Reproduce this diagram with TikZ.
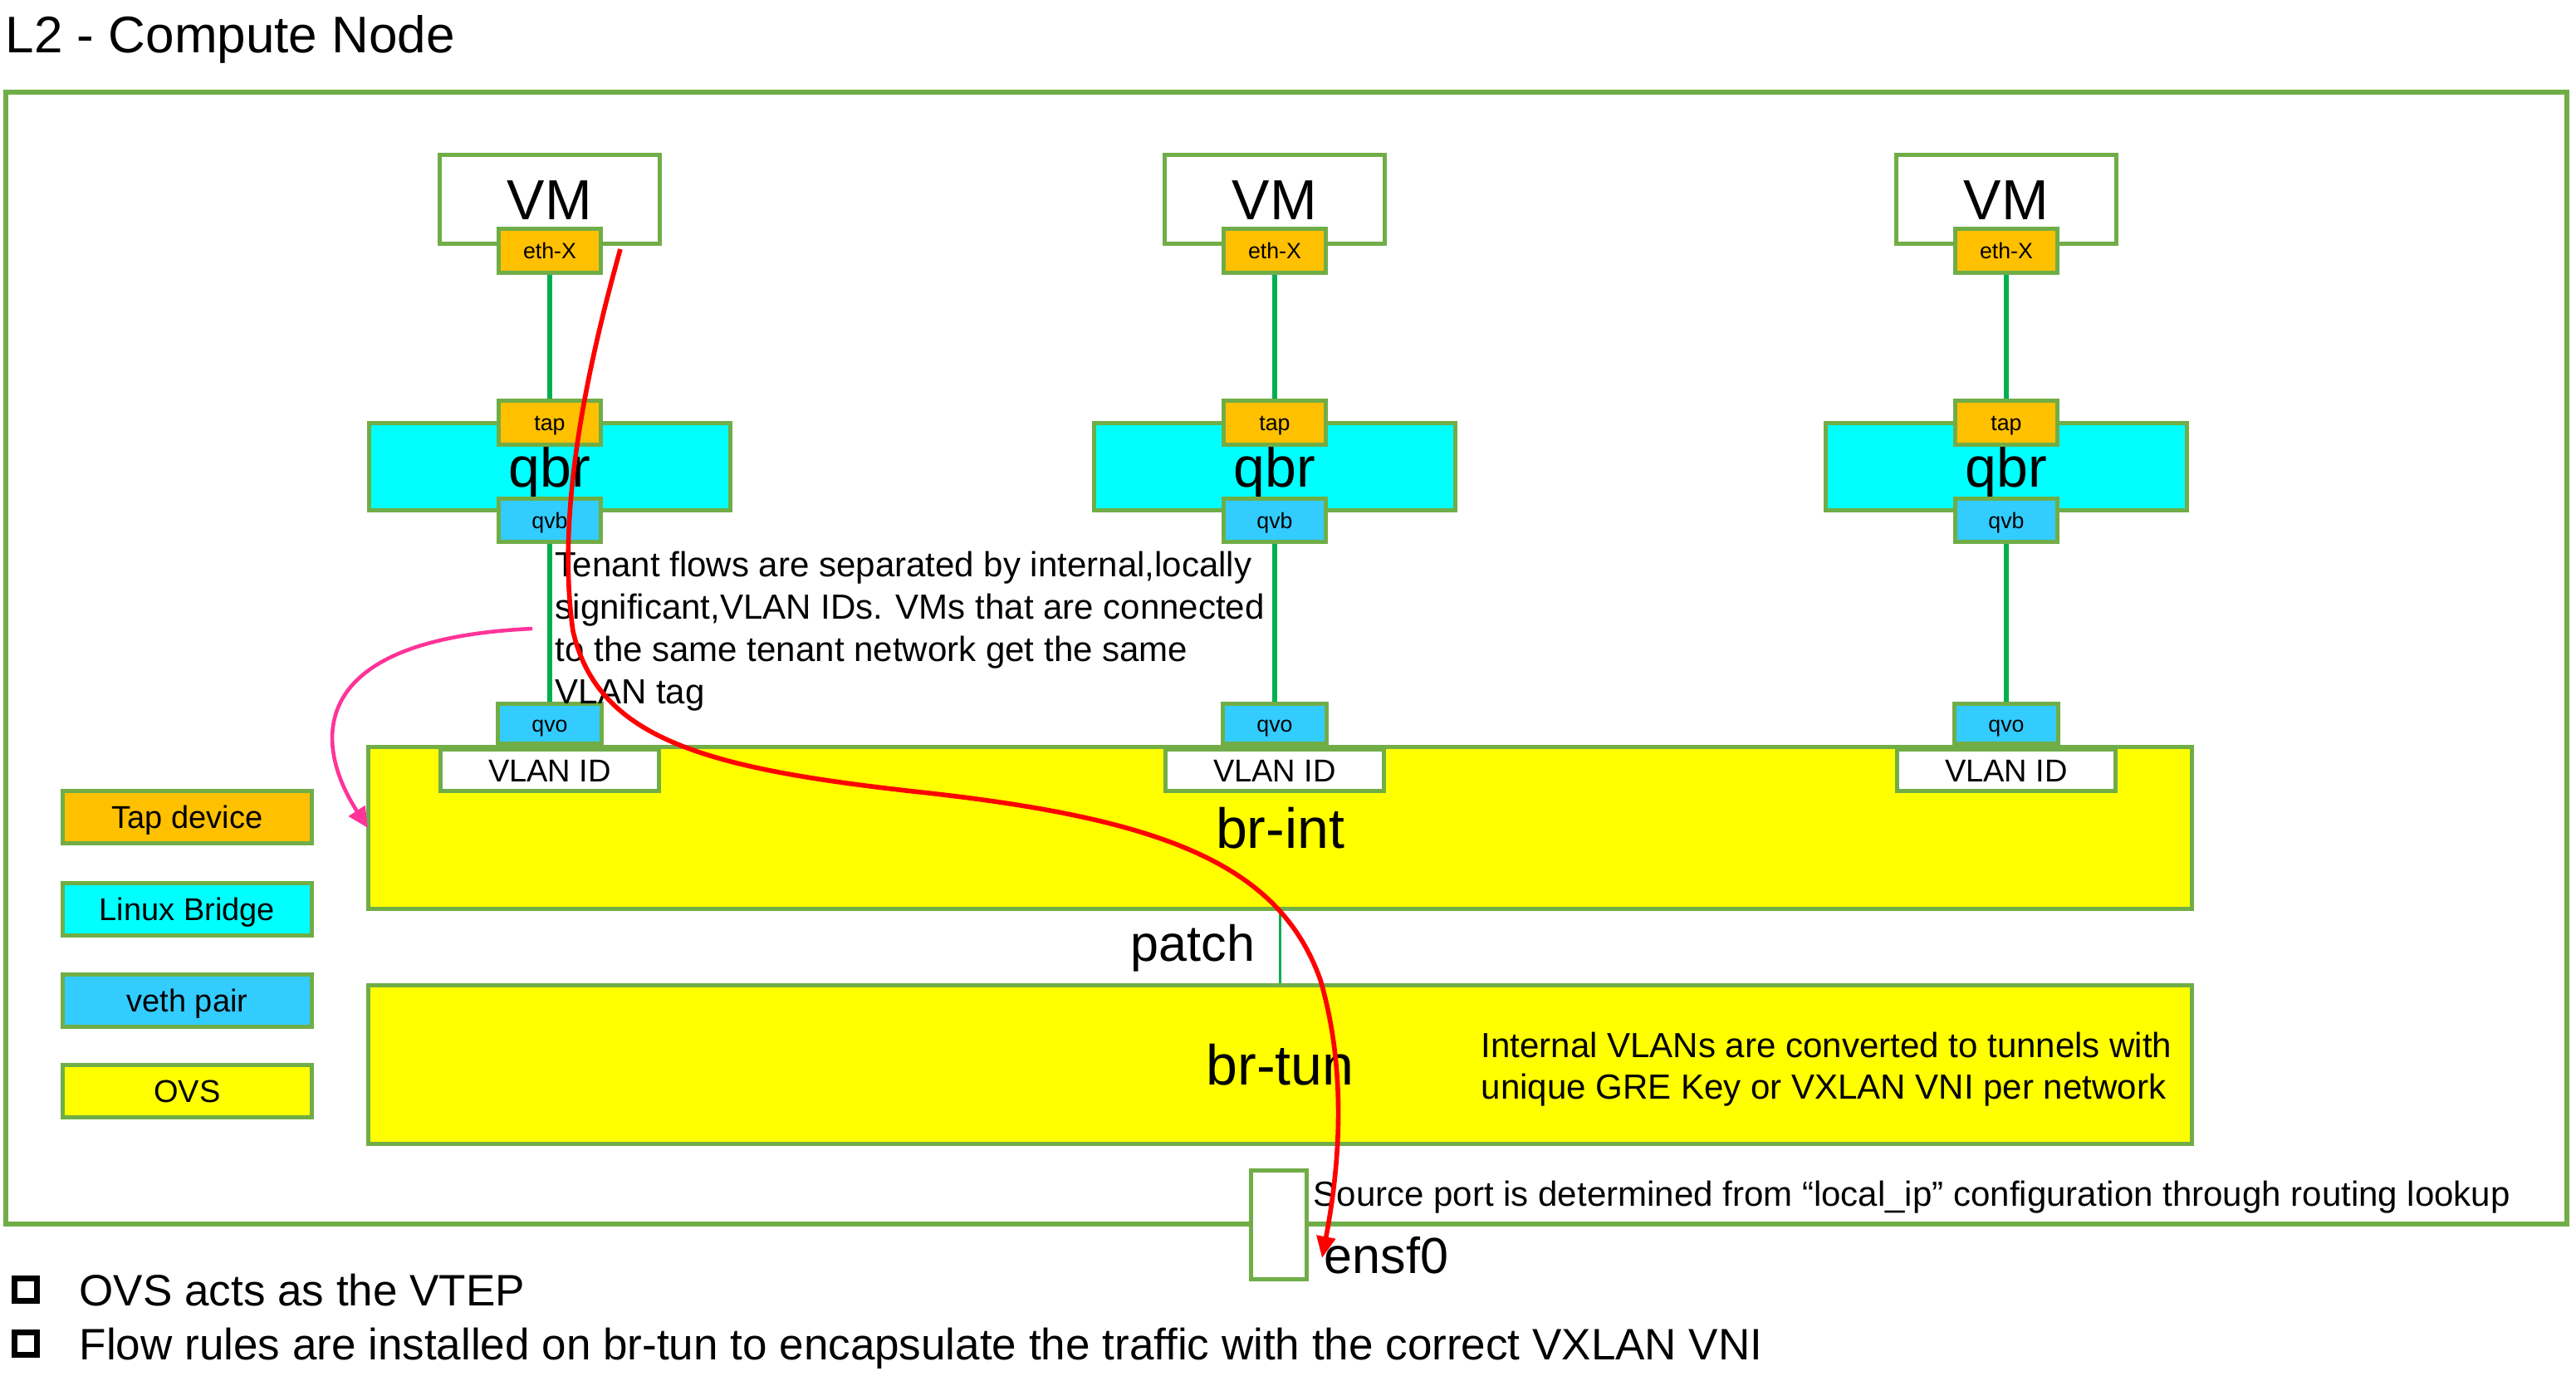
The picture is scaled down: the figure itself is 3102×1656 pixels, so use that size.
\documentclass[tikz,border=0pt]{standalone}
\usepackage{fontspec}
\setmainfont{Liberation Sans}
\usetikzlibrary{arrows.meta}
\definecolor{bgreen}{HTML}{70AD47}
\definecolor{lgreen}{HTML}{00B050}
\definecolor{torange}{HTML}{FFC000}
\definecolor{tcyan}{HTML}{00FFFF}
\definecolor{tblue}{HTML}{33CCFF}
\definecolor{tyellow}{HTML}{FFFF00}
\definecolor{tpink}{HTML}{FF3399}
\definecolor{tred}{HTML}{FF0000}
\begin{document}
\begin{tikzpicture}[x=0.01cm,y=-0.01cm,
  boxbase/.style={draw=bgreen, line width=1.42pt, inner sep=0pt, text depth=0pt},
  vmbox/.style={boxbase, fill=white, minimum width=2.65cm, minimum height=1.06cm,
     font=\fontsize{19.35pt}{22pt}\selectfont, text height=13.85pt},
  qbrbox/.style={boxbase, fill=tcyan, minimum width=4.35cm, minimum height=1.05cm,
     font=\fontsize{19.35pt}{22pt}\selectfont, text height=13.85pt},
  port/.style={boxbase, minimum width=1.23cm, minimum height=0.53cm,
     font=\fontsize{7.6pt}{9pt}\selectfont, text height=5.4pt},
  qvobox/.style={boxbase, fill=tblue, minimum width=1.25cm, minimum height=0.48cm,
     font=\fontsize{7.6pt}{9pt}\selectfont, text height=5.4pt},
  vlanbox/.style={boxbase, fill=white, minimum width=2.63cm, minimum height=0.50cm,
     font=\fontsize{10.81pt}{13pt}\selectfont, text height=7.74pt},
  ovsbox/.style={boxbase, fill=tyellow, minimum width=21.94cm,
     font=\fontsize{19.35pt}{22pt}\selectfont, text height=13.85pt},
  legend/.style={boxbase, minimum width=3.00cm, minimum height=0.63cm,
     font=\fontsize{10.81pt}{13pt}\selectfont, text height=7.74pt},
  frame/.style={draw=bgreen, line width=1.71pt, minimum width=30.82cm, minimum height=13.63cm, inner sep=0pt},
  link/.style={draw=lgreen, line width=1.56pt},
  patchline/.style={draw=lgreen, line width=1.1pt},
  txt/.style={inner sep=0pt, font=\fontsize{11.95pt}{14.5pt}\selectfont},
  redarrow/.style={draw=tred, line width=1.6pt, -{Triangle[length=7.4pt,width=6.3pt]}},
  pinkarrow/.style={draw=tpink, line width=1.3pt, -{Triangle[length=7pt,width=6.5pt]}},
  bulletbox/.style={draw=black, line width=2pt, minimum size=0.27cm, inner sep=0pt},
]
\useasboundingbox (0,0) rectangle (3102,1656);

% title
\node[inner sep=0pt, anchor=base west, font=\fontsize{17.64pt}{20pt}\selectfont] (title) at (6,63) {L2 - Compute Node};

% outer frame
\node[frame] (frame) at (1549,792.5) {};

% legend
\node[legend, fill=torange] (lg1) at (225.5,984) {Tap device};
\node[legend, fill=tcyan] (lg2) at (225.5,1095) {Linux Bridge};
\node[legend, fill=tblue] (lg3) at (225.5,1205) {veth pair};
\node[legend, fill=tyellow] (lg4) at (225.5,1313.5) {OVS};

% OVS bridges
\node[ovsbox, minimum height=1.95cm] (brint) at (1541.5,997) {br-int};
\node[ovsbox, minimum height=1.91cm] (brtun) at (1541.5,1282) {br-tun};
\draw[patchline] (brint) -- (brtun);
\node[inner sep=0pt, anchor=base east, font=\fontsize{17.36pt}{20pt}\selectfont] (patch) at (1512,1157) {patch};

% columns
\foreach \cx/\n in {662/a,1535/b,2416/c} {
  \node[vmbox] (vm\n) at (\cx,240) {VM};
  \node[port, fill=torange] (eth\n) at (\cx,302) {eth-X};
  \node[qbrbox] (qbr\n) at (\cx,562) {qbr};
  \node[port, fill=torange] (tap\n) at (\cx,509) {tap};
  \node[port, fill=tblue, minimum height=0.52cm] (qvb\n) at (\cx,626.5) {qvb};
  \node[qvobox] (qvo\n) at (\cx,871.5) {qvo};
  \node[vlanbox] (vlan\n) at (\cx,927.5) {VLAN ID};
  \draw[link] (eth\n) -- (tap\n);
  \draw[link] (qvb\n) -- (qvo\n);
}

% texts
\node[txt, anchor=north west, align=left] (tenant) at (668,663)
  {Tenant flows are separated by internal,locally\\significant,VLAN IDs. VMs that are connected\\to the same tenant network get the same\\VLAN tag};
\node[txt, anchor=north west, align=left, font=\fontsize{11.95pt}{14.2pt}\selectfont] (internal) at (1783,1242)
  {Internal VLANs are converted to tunnels with\\unique GRE Key or VXLAN VNI per network};

% ensf0 port
\node[boxbase, fill=white, minimum width=0.67cm, minimum height=1.31cm] (ensf) at (1540,1475) {};
\node[inner sep=0pt, anchor=base west, font=\fontsize{17.36pt}{20pt}\selectfont] (ensflabel) at (1594,1533) {ensf0};
\node[txt, anchor=base west] (source) at (1581,1452) {Source port is determined from “local\_ip” configuration through routing lookup};

% bullets
\node[bulletbox] (b1) at (31,1553) {};
\node[bulletbox] (b2) at (31,1618) {};
\node[inner sep=0pt, anchor=base west, font=\fontsize{15.08pt}{18pt}\selectfont] (bt1) at (95,1572) {OVS acts as the VTEP};
\node[inner sep=0pt, anchor=base west, font=\fontsize{15.08pt}{18pt}\selectfont] (bt2) at (95,1637) {Flow rules are installed on br-tun to encapsulate the traffic with the correct VXLAN VNI};

% arrows
\coordinate (ps) at (641,757);
\coordinate (pe) at (443,997);
\draw[pinkarrow] (ps) .. controls (360,770) and (380,900) .. (pe);

\coordinate (rs) at (747,300);
\coordinate (re) at (1592,1515);
\draw[redarrow] (rs) .. controls (705,450) and (670,620) .. (690,760)
  .. controls (720,890) and (850,925) .. (1100,953)
  .. controls (1400,985) and (1540,1040) .. (1590,1180)
  .. controls (1625,1300) and (1610,1420) .. (re);
\end{tikzpicture}
\end{document}
